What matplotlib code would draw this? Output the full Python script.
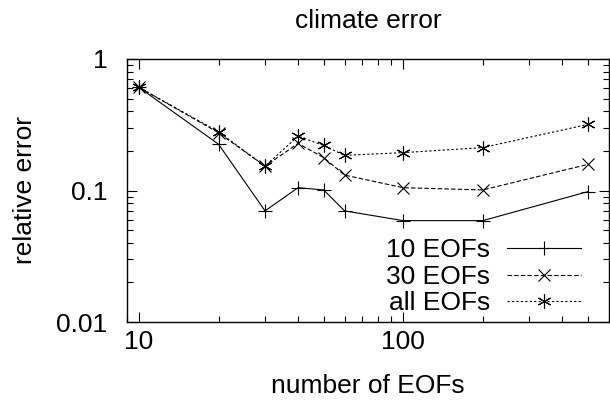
import numpy as np
import matplotlib
matplotlib.use("Agg")
import matplotlib.pyplot as plt
from matplotlib.ticker import LogLocator, NullFormatter, FixedLocator, FixedFormatter

plt.rcParams['font.family'] = ['Liberation Sans', 'DejaVu Sans']

# Data
n_eofs = [10, 20, 30, 40, 50, 60, 100, 200, 500]
err_10 = [0.608, 0.225, 0.070, 0.105, 0.101, 0.070, 0.059, 0.059, 0.098]
err_30 = [0.608, 0.275, 0.153, 0.228, 0.178, 0.131, 0.105, 0.101, 0.158]
err_all = [0.608, 0.280, 0.153, 0.259, 0.220, 0.185, 0.194, 0.212, 0.318]
labels = ["10 EOFs", "30 EOFs", "all EOFs"]

fig = plt.figure(figsize=(6.1, 4.0), dpi=100)
ax = fig.add_axes([0.208, 0.195, 0.79, 0.6575])

ax.plot(n_eofs, err_10, color='black', lw=0.8, marker='+', ms=10, mew=0.8, label=labels[0])
ax.plot(n_eofs, err_30, color='black', lw=0.8, ls=(0, (4, 2)), marker='x', ms=8, mew=0.8, label=labels[1])
ax.plot(n_eofs, err_all, color='black', lw=0.8, ls=(0, (2, 2)), marker=(6, 2, 0), ms=10, mew=0.8, label=labels[2])

ax.set_xscale('log')
ax.set_yscale('log')
ax.set_xlim(9, 600)
ax.set_ylim(0.01, 1)

ax.xaxis.set_major_locator(FixedLocator([10, 100]))
ax.xaxis.set_major_formatter(FixedFormatter(['10', '100']))
ax.xaxis.set_minor_locator(LogLocator(base=10, subs=np.arange(2, 10)))
ax.xaxis.set_minor_formatter(NullFormatter())
ax.yaxis.set_major_locator(FixedLocator([0.01, 0.1, 1]))
ax.yaxis.set_major_formatter(FixedFormatter(['0.01', '0.1', '1']))
ax.yaxis.set_minor_locator(LogLocator(base=10, subs=np.arange(2, 10)))
ax.yaxis.set_minor_formatter(NullFormatter())

ax.tick_params(which='both', direction='in', top=True, right=True, width=0.8, labelsize=19)
ax.tick_params(axis='x', which='major', length=7, pad=6)
ax.tick_params(axis='y', which='major', length=7, pad=14)
ax.tick_params(which='minor', length=4)
for s in ax.spines.values():
    s.set_linewidth(1.0)

ax.set_title("climate error", fontsize=19, pad=22)
ax.set_xlabel("number of EOFs", fontsize=19, labelpad=14)
ax.set_ylabel("relative error", fontsize=19, labelpad=14)

ax.legend(loc='lower right', bbox_to_anchor=(0.965, -0.015), frameon=False, fontsize=19,
          markerfirst=False, handlelength=2.8, numpoints=1, labelspacing=0.1,
          borderaxespad=0.0, handletextpad=0.65)

fig.savefig("out.png", dpi=100)
